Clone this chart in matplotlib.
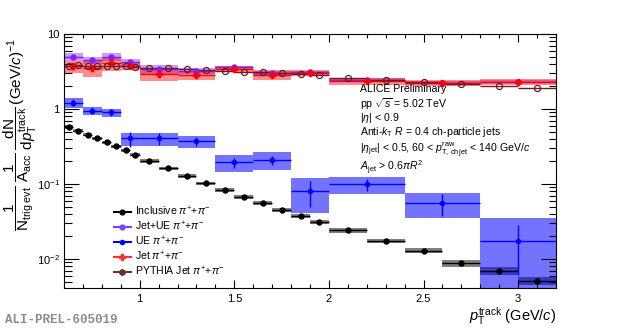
import numpy as np
import matplotlib
matplotlib.use('Agg')
import matplotlib.pyplot as plt
from matplotlib.lines import Line2D
from matplotlib.ticker import FixedLocator, FixedFormatter, MultipleLocator, NullFormatter

plt.rcParams['font.family'] = ['Liberation Sans', 'DejaVu Sans']
plt.rcParams['mathtext.fontset'] = 'custom'
plt.rcParams['mathtext.rm'] = 'Liberation Sans'
plt.rcParams['mathtext.it'] = 'Liberation Sans:italic'
plt.rcParams['mathtext.bf'] = 'Liberation Sans:bold'

# inclusive binning (also used by PYTHIA)
incl_edges = [0.6, 0.65, 0.7, 0.75, 0.8, 0.85, 0.9, 0.95, 1.0,
              1.1, 1.2, 1.3, 1.4, 1.5, 1.6, 1.7, 1.8, 1.9, 2.0,
              2.2, 2.4, 2.6, 2.8, 3.0, 3.2]
incl_val = [0.578, 0.512, 0.453, 0.405, 0.358, 0.317, 0.280, 0.245,
            0.203, 0.162, 0.128, 0.1026, 0.0826, 0.0673, 0.0554, 0.0456, 0.0379, 0.0311,
            0.0242, 0.0174, 0.0129, 0.0088, 0.0069, 0.0051]
incl_sys_rel = [0.05, 0.05, 0.05, 0.05, 0.05, 0.05, 0.05, 0.05,
                0.05, 0.05, 0.05, 0.05, 0.06, 0.06, 0.06, 0.06, 0.06, 0.06,
                0.07, 0.07, 0.08, 0.10, 0.12, 0.11]
pythia_val = [3.78, 3.85, 3.78, 3.75, 3.78, 3.75, 3.70, 3.65,
              3.55, 3.48, 3.45, 3.30, 3.20, 3.10, 3.08, 2.98, 2.90, 2.84,
              2.61, 2.46, 2.31, 2.15, 2.02, 1.88]

# jet-side binning
jet_edges = [0.6, 0.7, 0.8, 0.9, 1.0, 1.2, 1.4, 1.6, 1.8, 2.0, 2.4, 2.8, 3.2]
ue_val = [1.21, 0.95, 0.90, 0.405, 0.405, 0.37, 0.195, 0.208, 0.080, 0.099, 0.0555, 0.0172]
ue_stat = [0.13, 0.10, 0.10, 0.09, 0.07, 0.05, 0.03, 0.03, 0.03, 0.018, 0.018, 0.011]
ue_sys = [0.17, 0.12, 0.115, 0.08, 0.08, 0.065, 0.05, 0.055, 0.039, 0.026, 0.02, 0.018]
jetue_val = [4.9, 4.5, 5.0, 4.2, 3.4, 3.2, 3.6, 3.05, 3.1, 2.45, 2.25, 2.3]
jetue_stat = [0.25, 0.25, 0.25, 0.2, 0.15, 0.15, 0.15, 0.12, 0.12, 0.08, 0.08, 0.08]
jetue_sys = [0.6, 0.5, 0.6, 0.4, 0.45, 0.3, 0.2, 0.2, 0.15, 0.12, 0.1, 0.1]
jet_val = [3.7, 3.5, 4.1, 3.8, 2.95, 2.8, 3.4, 2.85, 3.05, 2.36, 2.2, 2.28]
jet_stat = [0.35, 0.4, 0.35, 0.3, 0.25, 0.2, 0.2, 0.15, 0.15, 0.1, 0.1, 0.1]
jet_sys = [0.7, 0.8, 0.85, 0.45, 0.6, 0.4, 0.3, 0.45, 0.3, 0.25, 0.2, 0.22]


def bins(edges):
    e = np.array(edges)
    return 0.5 * (e[1:] + e[:-1]), e[1:] - e[:-1]


def sys_boxes(ax, edges, val, sys, color, alpha):
    x, w = bins(edges)
    val = np.array(val)
    sys = np.array(sys)
    lo = np.clip(val - sys, 1e-4, None)
    ax.bar(x, val + sys - lo, width=w, bottom=lo, color=color, alpha=alpha,
           linewidth=0)


def points(ax, edges, val, stat, color, **kw):
    x, w = bins(edges)
    ax.errorbar(x, val, xerr=w / 2, yerr=stat, fmt='o', color=color,
                elinewidth=1.0, capsize=0, **kw)


fig = plt.figure(figsize=(6.2, 3.28), dpi=100)
ax = fig.add_axes([64 / 620, 1 - 288 / 328, 492 / 620, 254 / 328])

incl_sys = np.array(incl_val) * np.array(incl_sys_rel)
sys_boxes(ax, incl_edges, incl_val, incl_sys, 'black', 0.5)
sys_boxes(ax, jet_edges, jetue_val, jetue_sys, '#8a2be2', 0.45)
sys_boxes(ax, jet_edges, ue_val, ue_sys, '#0000ff', 0.55)
sys_boxes(ax, jet_edges, jet_val, jet_sys, '#ff0000', 0.45)

points(ax, incl_edges, incl_val, None, 'black', markersize=3.6)
points(ax, jet_edges, jetue_val, jetue_stat, '#7f22ff', markersize=3.6)
points(ax, jet_edges, ue_val, ue_stat, '#0000ff', markersize=3.0)
points(ax, jet_edges, jet_val, jet_stat, '#ff0000', marker='P', markersize=4.0)
px, pw = bins(incl_edges)
ax.errorbar(px, pythia_val, xerr=pw / 2, fmt='o', color='#6e1a26',
            markerfacecolor='none', markeredgewidth=0.9, markersize=4.4,
            elinewidth=1.0, capsize=0)

ax.set_yscale('log')
ax.set_xlim(0.6, 3.2)
ax.set_ylim(0.0041, 10)

ax.xaxis.set_major_locator(FixedLocator([1, 1.5, 2, 2.5, 3]))
ax.xaxis.set_major_formatter(FixedFormatter(['1', '1.5', '2', '2.5', '3']))
ax.xaxis.set_minor_locator(MultipleLocator(0.1))
ax.yaxis.set_major_locator(FixedLocator([0.01, 0.1, 1, 10]))
ax.yaxis.set_major_formatter(FixedFormatter([r'$10^{-2}$', r'$10^{-1}$', '1', '10']))
ax.yaxis.set_minor_formatter(NullFormatter())

ax.tick_params(which='both', direction='in', top=True, right=True, width=0.8,
               labelsize=8)
ax.tick_params(axis='x', which='major', length=5.5, pad=4)
ax.tick_params(axis='x', which='minor', length=2.8)
ax.tick_params(axis='y', which='major', length=10.8, pad=3)
ax.tick_params(axis='y', which='minor', length=5.4)
for s in ax.spines.values():
    s.set_linewidth(0.8)

ax.set_xlabel(r'$p_{\mathrm{T}}^{\mathrm{track}}$ (GeV/$c$)', fontsize=10.5,
              ha='right', x=1.0, labelpad=1)
fig.text(20 / 620, 1 - 134 / 328,
         r'$\dfrac{1}{\mathrm{N}_{\mathrm{trig\ evt}}}\;\dfrac{1}{\mathrm{A}_{\mathrm{acc}}}\;'
         r'\dfrac{\mathrm{dN}}{\mathrm{d}p_{\mathrm{T}}^{\mathrm{track}}}\,(\mathrm{GeV}/c)^{-1}$',
         rotation=90, ha='center', va='center', fontsize=11)

info = ['ALICE Preliminary',
        r'pp $\sqrt{s}$ = 5.02 TeV',
        r'|$\eta$| < 0.9',
        r'Anti-$k_{\mathrm{T}}$ $R$ = 0.4 ch-particle jets',
        r'|$\eta_{\mathrm{jet}}$| < 0.5, 60 < $p_{\mathrm{T,\,ch\,jet}}^{\mathrm{raw}}$ < 140 GeV/$c$',
        r'$A_{\mathrm{jet}}$ > 0.6$\pi R^{2}$']
info_y = [89, 104, 118, 132, 150, 168]
for line, yp in zip(info, info_y):
    fig.text(360 / 620, 1 - yp / 328, line, fontsize=7.6,
             ha='left', va='center')

handles = [
    Line2D([], [], color='black', marker='o', markersize=3.4),
    Line2D([], [], color='#8040ff', marker='o', markersize=3.4),
    Line2D([], [], color='#0000ff', marker='o', markersize=3.0),
    Line2D([], [], color='#ff3030', marker='P', markersize=4.0),
    Line2D([], [], color='#6b3030', marker='o', markersize=3.8),
]
labels = [r'Inclusive $\pi^{+}$+$\pi^{-}$', r'Jet+UE $\pi^{+}$+$\pi^{-}$',
          r'UE $\pi^{+}$+$\pi^{-}$', r'Jet $\pi^{+}$+$\pi^{-}$',
          r'PYTHIA Jet $\pi^{+}$+$\pi^{-}$']
fig.legend(handles, labels, loc='upper left',
           bbox_to_anchor=(114 / 620, 1 - 205 / 328), frameon=False,
           fontsize=7.6, handlelength=1.6, handletextpad=0.4,
           labelspacing=0.16, borderpad=0, borderaxespad=0)

fig.text(5 / 620, 1 - 320 / 328, 'ALI-PREL-605019', fontsize=9,
         family='Liberation Mono', weight='bold', color='#8c8c8c',
         ha='left', va='center')

fig.savefig('out.png', dpi=100)
